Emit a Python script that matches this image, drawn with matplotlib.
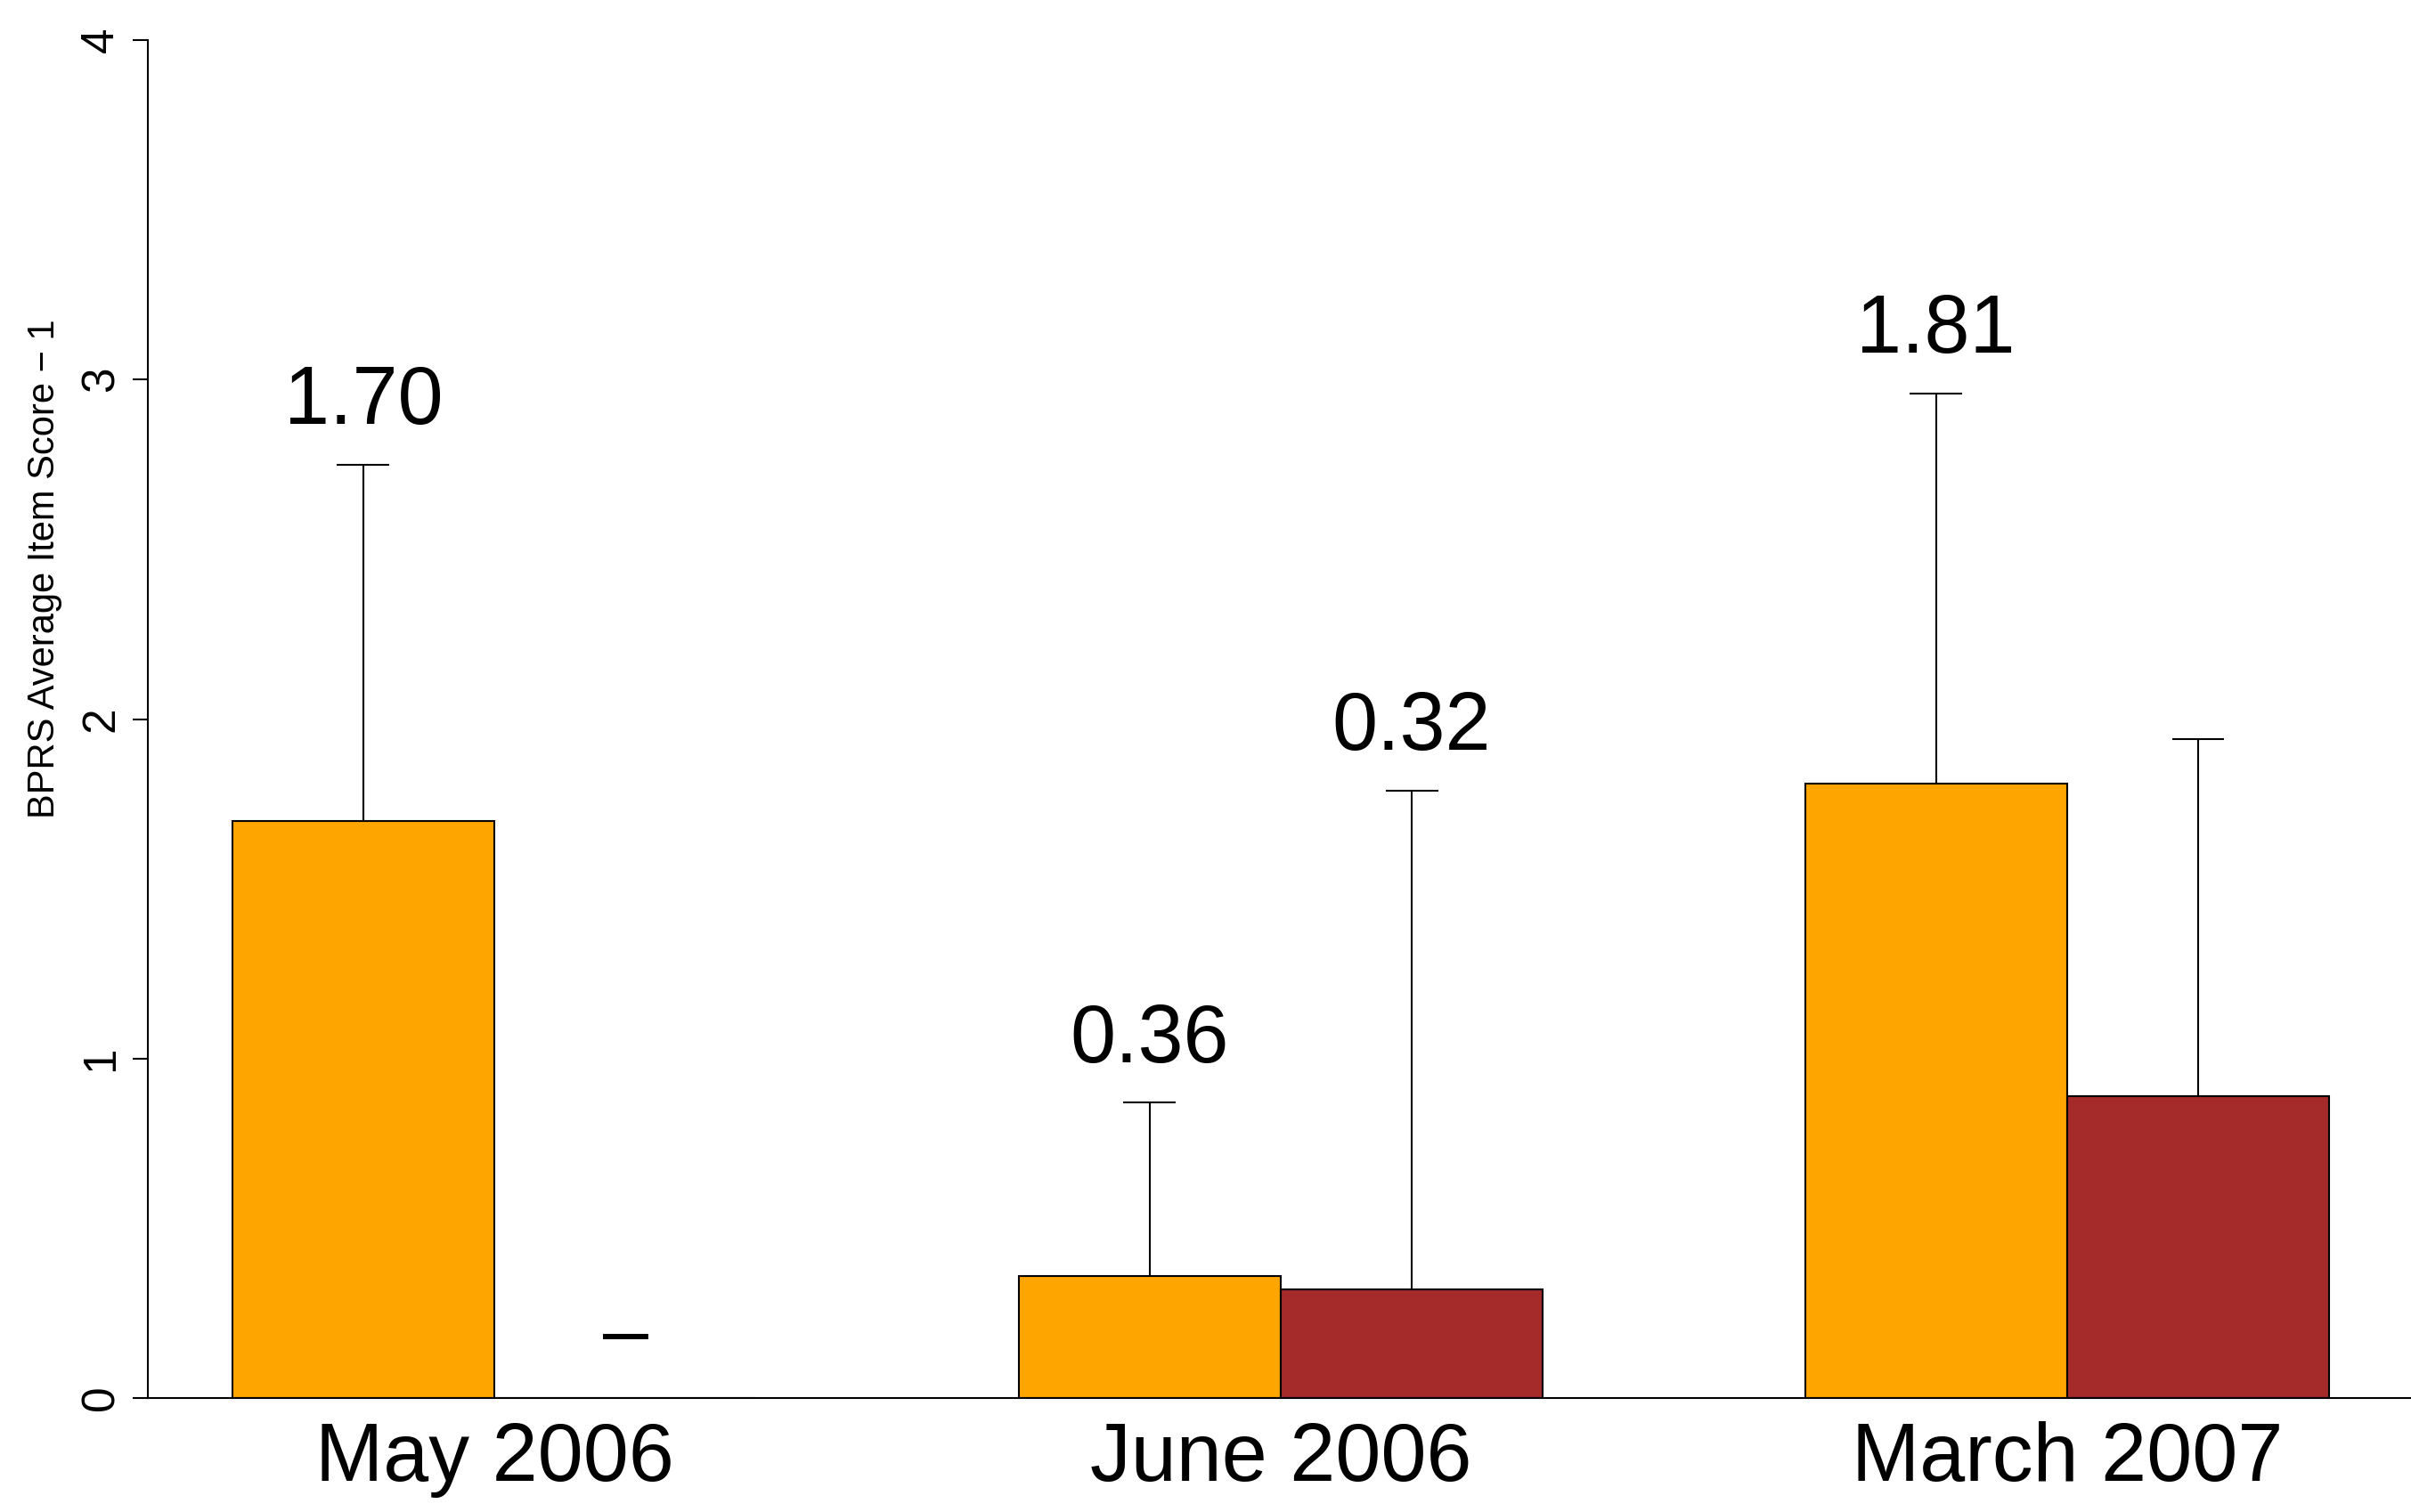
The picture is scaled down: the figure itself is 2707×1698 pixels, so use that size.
import numpy as np
import matplotlib
matplotlib.use("Agg")
import matplotlib.pyplot as plt

plt.rcParams['font.family'] = ['Liberation Sans', 'DejaVu Sans']

# Data
groups = ["May 2006", "June 2006", "March 2007"]
orange_mean = [1.70, 0.36, 1.81]
orange_sd = [1.05, 0.51, 1.15]          # upper error only
orange_labels = ["1.70", "0.36", "1.81"]
red_mean = [0.0, 0.32, 0.89]
red_sd = [np.nan, 1.47, 1.05]
red_labels = ["\u2013", "0.32", ""]

ORANGE = "#FFA500"
BROWN = "#A52A2A"

fig = plt.figure(figsize=(27.07, 16.98), dpi=100)
ax = fig.add_axes([166 / 2707, 1 - 1570 / 1698, 1 - 166 / 2707, (1570 - 45) / 1698])

# R barplot style positions: width 1, groups of 2 separated by 1
centers = np.arange(len(groups)) * 3 + 2
x_or = centers - 0.5
x_rd = centers + 0.5

ax.bar(x_or, orange_mean, width=1, color=ORANGE, edgecolor="black", linewidth=1.5, zorder=2)
ax.bar(x_rd, red_mean, width=1, color=BROWN, edgecolor="black", linewidth=1.5, zorder=2)

cap = 0.1
for xs, means, sds, labs in [(x_or, orange_mean, orange_sd, orange_labels),
                              (x_rd, red_mean, red_sd, red_labels)]:
    for x, m, s, lab in zip(xs, means, sds, labs):
        top = m
        if not np.isnan(s):
            top = m + s
            ax.vlines(x, m, top, color="black", linewidth=1.5, zorder=1)
            ax.hlines(top, x - cap, x + cap, color="black", linewidth=1.5, zorder=1)
        if lab:
            ax.text(x, top + 0.12, lab, ha="center", va="baseline", fontsize=66,
                    clip_on=False)

ax.set_xlim(0.678, 0.678 + 2541 / 294.3)
ax.set_ylim(0, 4)

ax.spines['top'].set_visible(False)
ax.spines['right'].set_visible(False)
ax.spines['left'].set_linewidth(1.5)
ax.spines['bottom'].set_linewidth(1.5)

ax.set_yticks([0, 1, 2, 3, 4])
ax.set_yticklabels(["0", "1", "2", "3", "4"], rotation=90, va="center")
ax.tick_params(axis='y', length=12, width=1.5, pad=8, labelsize=37)

ax.set_xticks(centers)
ax.set_xticklabels(groups)
ax.tick_params(axis='x', length=0, pad=19, labelsize=66)

fig.text(50 / 2707, 1 - 639 / 1698, "BPRS Average Item Score \u2212 1", rotation=90,
         ha="center", va="center", fontsize=30)

fig.savefig("out.png", dpi=100)
